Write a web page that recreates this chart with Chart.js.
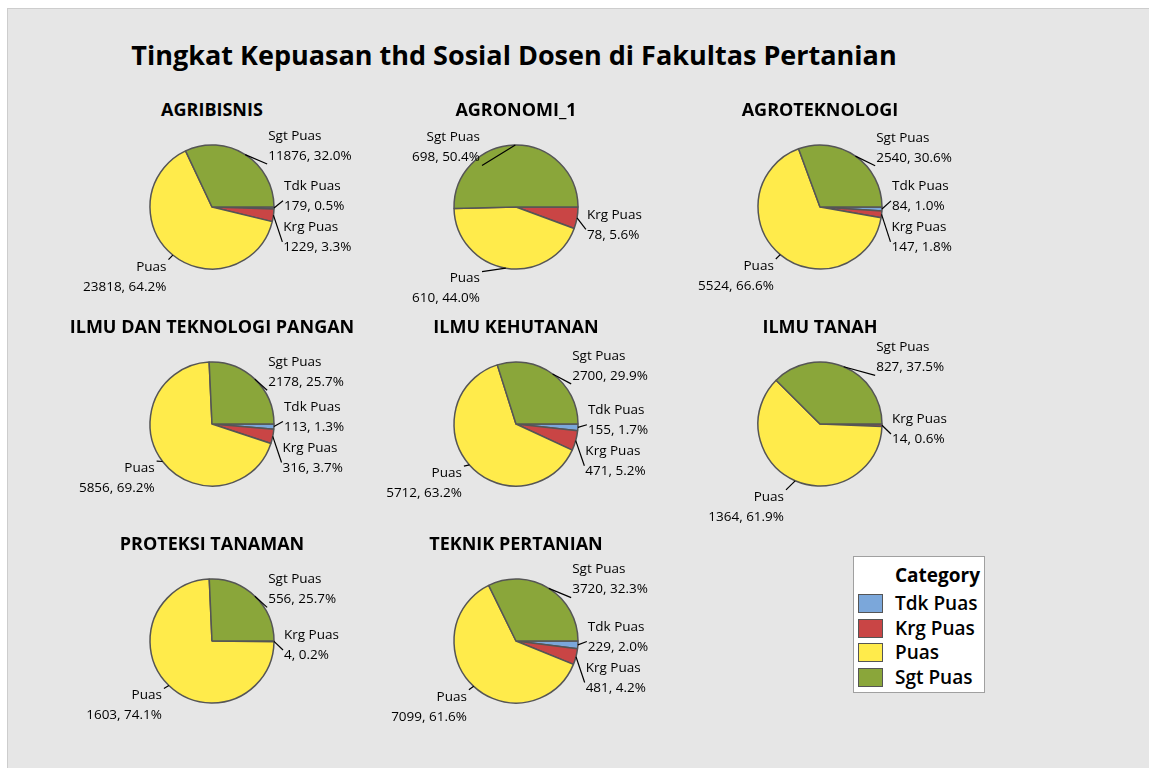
<!DOCTYPE html>
<html>
<head>
<meta charset="utf-8">
<script src="https://cdn.jsdelivr.net/npm/chart.js@4.4.0/dist/chart.umd.min.js"></script>
<style>
html,body{margin:0;padding:0;background:#fff;width:1149px;height:768px;overflow:hidden;font-family:"Open Sans",sans-serif;color:#000;}
#frame{position:absolute;left:7px;top:8px;width:1142px;height:760px;background:#e6e6e6;border-left:1px solid #cdcdcd;border-top:1px solid #cdcdcd;box-sizing:border-box;}
#title{position:absolute;left:0;width:1028px;top:41px;text-align:center;font-weight:700;font-size:27px;line-height:27px;white-space:nowrap;}
.ptitle{position:absolute;width:360px;text-align:center;font-weight:700;font-size:18px;line-height:18px;white-space:nowrap;}
.cell{position:absolute;width:360px;height:250px;}
#legend{position:absolute;left:853px;top:556px;width:132px;height:137px;background:#fff;border:1px solid #a0a0a0;box-sizing:border-box;}
#legend .head{position:absolute;left:41px;top:7px;font-weight:700;font-size:19px;line-height:22px;white-space:nowrap;}
#legend .item{position:absolute;left:4px;height:20px;}
#legend .sw{position:absolute;left:0;top:0;width:25px;height:19px;border:1px solid #555;box-sizing:border-box;}
#legend .lbl{position:absolute;left:37px;top:-2px;font-size:19px;font-weight:600;line-height:22px;white-space:nowrap;}
</style>
</head>
<body>
<div id="frame"></div>
<div id="title">Tingkat Kepuasan thd Sosial Dosen di Fakultas Pertanian</div>
<div id="cells"></div>
<div id="legend"></div>
<script>
// ---- data ----
const categories = ['Tdk Puas', 'Krg Puas', 'Puas', 'Sgt Puas'];
const panels = ['AGRIBISNIS', 'AGRONOMI_1', 'AGROTEKNOLOGI', 'ILMU DAN TEKNOLOGI PANGAN',
                'ILMU KEHUTANAN', 'ILMU TANAH', 'PROTEKSI TANAMAN', 'TEKNIK PERTANIAN'];
const tdkPuas = [179, null, 84, 113, 155, null, null, 229];
const krgPuas = [1229, 78, 147, 316, 471, 14, 4, 481];
const puas    = [23818, 610, 5524, 5856, 5712, 1364, 1603, 7099];
const sgtPuas = [11876, 698, 2540, 2178, 2700, 827, 556, 3720];
const legendTitle = 'Category';

// ---- styles ----
const colors = ['#7ba7da', '#c94545', '#ffeb4b', '#8aa63a'];
const series = [tdkPuas, krgPuas, puas, sgtPuas];

const labelPlugin = {
  id: 'sliceLabels',
  afterDatasetsDraw(chart) {
    const ctx = chart.ctx;
    const ds = chart.data.datasets[0];
    const meta = chart.getDatasetMeta(0);
    const total = ds.data.reduce((a, b) => a + b, 0);
    const items = meta.data.map((arc, i) => {
      const p = arc.getProps(['x', 'y', 'startAngle', 'endAngle', 'outerRadius'], true);
      const mid = (p.startAngle + p.endAngle) / 2;
      const c = Math.cos(mid), s = Math.sin(mid);
      const r = p.outerRadius;
      const right = c >= 0;
      const k = r + 1 + 14 * Math.min(1, Math.abs(c) / 0.4);
      const yc = p.y + (k + 10 * Math.max(0, s)) * s + 4;
      const dx = right ? (r + 10) * Math.max(c, 0.78) : (r + 10) * Math.max(-c, 0.5);
      return {i, c, s, r, right, yc, tx: right ? p.x + dx : p.x - dx,
              px: p.x + r * c, py: p.y + r * s};
    });
    const gap = 41;
    const rights = items.filter(o => o.right).sort((a, b) => a.yc - b.yc);
    for (let it = 0; it < 200; it++) {
      let moved = false;
      for (let k = 1; k < rights.length; k++) {
        const d = gap - (rights[k].yc - rights[k - 1].yc);
        if (d > 0.01) { rights[k - 1].yc -= d / 2; rights[k].yc += d / 2; moved = true; }
      }
      if (!moved) break;
    }
    ctx.save();
    ctx.font = '13.5px "Open Sans"';
    ctx.textBaseline = 'middle';
    items.forEach(o => {
      const ey = o.yc + (o.s < -0.5 ? 18 : (o.s > 0.5 ? -17 : 4.5));
      const ex = o.right ? o.tx - 1 : o.tx + 2;
      ctx.beginPath();
      ctx.moveTo(o.px, o.py);
      ctx.lineTo(ex, ey);
      ctx.strokeStyle = '#000';
      ctx.lineWidth = 1.2;
      ctx.stroke();
      ctx.fillStyle = '#000';
      ctx.textAlign = o.right ? 'left' : 'right';
      const v = ds.data[o.i];
      ctx.fillText(chart.data.labels[o.i], o.tx, o.yc - 10);
      ctx.fillText(v + ', ' + (100 * v / total).toFixed(1) + '%', o.tx, o.yc + 10);
    });
    ctx.restore();
  }
};

const cells = document.getElementById('cells');
panels.forEach((name, idx) => {
  const col = idx % 3, row = Math.floor(idx / 3);
  const cx = 212 + col * 304, cy = 207 + row * 217;
  const t = document.createElement('div');
  t.className = 'ptitle';
  t.style.left = (cx - 180) + 'px';
  t.style.top = (cy - 107) + 'px';
  t.textContent = name;
  cells.appendChild(t);
  const wrap = document.createElement('div');
  wrap.className = 'cell';
  wrap.style.left = (cx - 180) + 'px';
  wrap.style.top = (cy - 125) + 'px';
  const cv = document.createElement('canvas');
  cv.width = 360; cv.height = 250;
  wrap.appendChild(cv);
  cells.appendChild(wrap);
  const labels = [], data = [], bg = [];
  categories.forEach((cat, k) => {
    const v = series[k][idx];
    if (v !== null && v !== undefined) { labels.push(cat); data.push(v); bg.push(colors[k]); }
  });
  new Chart(cv, {
    type: 'pie',
    data: { labels, datasets: [{ data, backgroundColor: bg, borderColor: '#555555', borderWidth: 1.5 }] },
    options: {
      responsive: false, animation: false, devicePixelRatio: 1,
      radius: 62, rotation: 90,
      layout: { padding: 0 },
      events: [],
      plugins: { legend: { display: false }, tooltip: { enabled: false }, title: { display: false } }
    },
    plugins: [labelPlugin]
  });
});

const lg = document.getElementById('legend');
const h = document.createElement('div');
h.className = 'head'; h.textContent = legendTitle; lg.appendChild(h);
categories.forEach((cat, k) => {
  const it = document.createElement('div');
  it.className = 'item';
  it.style.top = (37 + k * 24.7) + 'px';
  it.innerHTML = '<div class="sw" style="background:' + colors[k] + '"></div><div class="lbl"></div>';
  it.querySelector('.lbl').textContent = cat;
  lg.appendChild(it);
});
</script>
</body>
</html>
